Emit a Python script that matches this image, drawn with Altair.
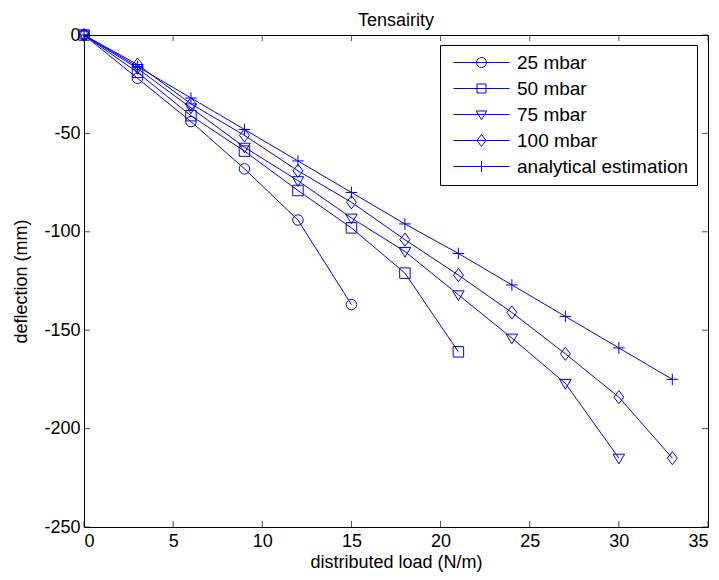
import altair as alt
import pandas as pd

series_names = ["25 mbar", "50 mbar", "75 mbar", "100 mbar", "analytical estimation"]
load_25 = [0, 3, 6, 9, 12, 15]
defl_25 = [0, -22, -44, -68, -94, -137]
load_50 = [0, 3, 6, 9, 12, 15, 18, 21]
defl_50 = [0, -19, -41, -59, -79, -98, -121, -161]
load_75 = [0, 3, 6, 9, 12, 15, 18, 21, 24, 27, 30]
defl_75 = [0, -17, -37, -57, -74, -93, -110, -132, -154, -177, -215]
load_100 = [0, 3, 6, 9, 12, 15, 18, 21, 24, 27, 30, 33]
defl_100 = [0, -15, -35, -51, -69, -85, -104, -122, -141, -162, -184, -215]
load_an = [0, 3, 6, 9, 12, 15, 18, 21, 24, 27, 30, 33]
defl_an = [0, -16, -32, -48, -64, -80, -96, -111, -127, -143, -159, -175]

x_ticks = [0, 5, 10, 15, 20, 25, 30, 35]
y_ticks = [0, -50, -100, -150, -200, -250]

BLUE = "#0000ff"
W, H = 624, 492
FONT = "Liberation Sans, Arial, sans-serif"
FS = 18

rows = []
for name, xs, ys in zip(series_names,
                        [load_25, load_50, load_75, load_100, load_an],
                        [defl_25, defl_50, defl_75, defl_100, defl_an]):
    for i, (a, b) in enumerate(zip(xs, ys)):
        rows.append({"series": name, "load": a, "defl": b, "idx": i})
df = pd.DataFrame(rows)

marker_paths = [
    "M1,0A1,1 0 1,1 -1,0A1,1 0 1,1 1,0",
    "M-1,-1H1V1H-1Z",
    "M-1.1,-0.75L1.1,-0.75L0,1.1Z",
    "M0,-1.25L0.95,0L0,1.25L-0.95,0Z",
    "M-1.1,0H1.1M0,-1.1V1.1",
]
LINE = "M-5.6,0H5.6"
legend_paths = [LINE + p for p in [
    "M1,0A1,1 0 1,1 -1,0A1,1 0 1,1 1,0",
    "M-0.9,-0.9H0.9V0.9H-0.9Z",
    "M-1.05,-0.7L1.05,-0.7L0,1.05Z",
    "M0,-1.2L0.9,0L0,1.2L-0.9,0Z",
    "M0,-1.1V1.1",
]]

xsc = alt.Scale(domain=[0, 35], nice=False, zero=False)
ysc = alt.Scale(domain=[-250, 0], nice=False, zero=False)

x_enc = alt.X("load:Q", scale=xsc, axis=alt.Axis(
    values=x_ticks, title="distributed load (N/m)", grid=False, tickSize=0,
    labelPadding=5, labelFont=FONT, labelFontSize=FS, labelColor="black",
    titleFont=FONT, titleFontSize=FS, titleFontWeight="normal", titleColor="black",
    titleX=W / 2, titleY=35, titleBaseline="middle",
    domainColor="black", labelExpr="'' + datum.value"))
y_enc = alt.Y("defl:Q", scale=ysc, axis=alt.Axis(
    values=y_ticks, title="deflection (mm)", grid=False, tickSize=0,
    labelPadding=4, labelFont=FONT, labelFontSize=FS, labelColor="black",
    titleFont=FONT, titleFontSize=FS, titleFontWeight="normal", titleColor="black",
    titleX=-63, titleY=H / 2, titleBaseline="middle", titleAngle=-90,
    domainColor="black", labelExpr="'' + datum.value"))

base = alt.Chart(df)

lines = base.mark_line(color=BLUE, strokeWidth=1).encode(
    x=x_enc, y=y_enc, detail="series:N", order="idx:Q")

points = base.mark_point(filled=False, color=BLUE, strokeWidth=1, size=110, opacity=1).encode(
    x=alt.X("load:Q", scale=xsc), y=alt.Y("defl:Q", scale=ysc),
    shape=alt.Shape("series:N", scale=alt.Scale(domain=series_names, range=marker_paths), legend=None))

legend_layer = base.transform_filter("false").mark_point(
    filled=False, color=BLUE, strokeWidth=1, size=100, opacity=1).encode(
    x=alt.X("load:Q", scale=xsc), y=alt.Y("defl:Q", scale=ysc),
    shape=alt.Shape("series:N", scale=alt.Scale(domain=series_names, range=legend_paths),
                    legend=alt.Legend(title=None, orient="none", legendX=356, legendY=10,
                                      strokeColor="black", fillColor="white",
                                      padding=8, symbolOffset=24, labelOffset=26,
                                      labelFont=FONT, labelFontSize=19,
                                      labelColor="black", rowPadding=6,
                                      symbolStrokeColor=BLUE, symbolStrokeWidth=1,
                                      labelLimit=400)))

xt_df = pd.DataFrame({"t": x_ticks})
yt_df = pd.DataFrame({"t": y_ticks})
tick_bottom = alt.Chart(xt_df).mark_tick(orient="vertical", size=6, thickness=1, color="black", yOffset=-3).encode(
    x=alt.X("t:Q", scale=xsc), y=alt.value(H))
tick_top = alt.Chart(xt_df).mark_tick(orient="vertical", size=6, thickness=1, color="black", yOffset=3).encode(
    x=alt.X("t:Q", scale=xsc), y=alt.value(0))
tick_left = alt.Chart(yt_df).mark_tick(orient="horizontal", size=6, thickness=1, color="black", xOffset=3).encode(
    y=alt.Y("t:Q", scale=ysc), x=alt.value(0))
tick_right = alt.Chart(yt_df).mark_tick(orient="horizontal", size=6, thickness=1, color="black", xOffset=-3).encode(
    y=alt.Y("t:Q", scale=ysc), x=alt.value(W))

chart = alt.layer(lines, points, legend_layer, tick_bottom, tick_top, tick_left, tick_right).resolve_scale(
    shape="independent"
).properties(
    width=W, height=H,
    title=alt.TitleParams("Tensairity", font=FONT, fontSize=FS, fontWeight="normal",
                          color="black", anchor="middle", offset=-4),
    padding={"left": 76, "top": 27, "right": 3, "bottom": 45},
    autosize=alt.AutoSizeParams(type="none"),
    background="white",
).configure_view(stroke="black", strokeWidth=1)

chart.save("out.html", embed_options={"renderer": "svg", "actions": False})
